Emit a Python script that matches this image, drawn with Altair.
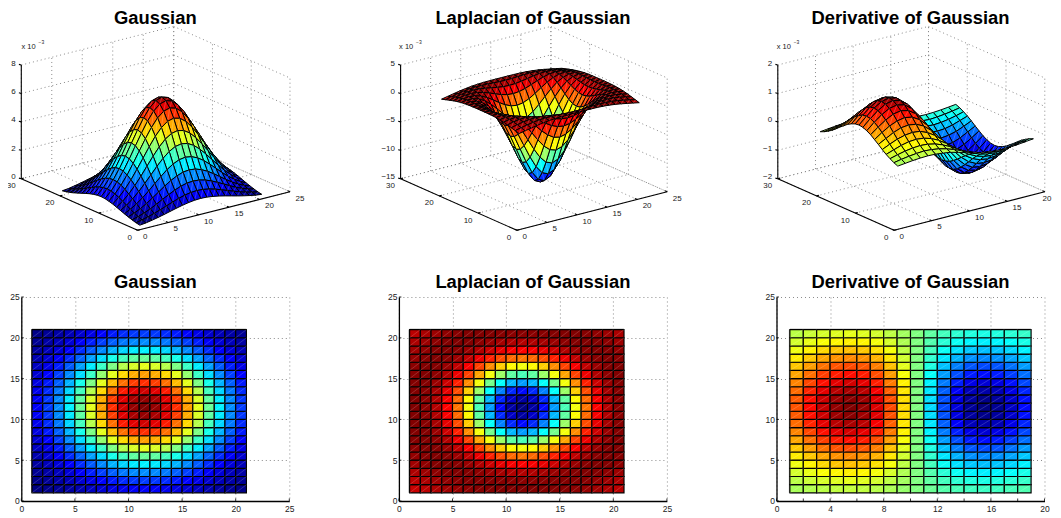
import altair as alt
import pandas as pd

FONT = "Liberation Sans"

# Gaussian, units 1e-5: rows dy = 0..10, columns dx = 0..10 from the centre (symmetric surface)
gauss_q = [
    [685, 671, 632, 572, 497, 416, 334, 257, 190, 136, 93],
    [671, 658, 620, 561, 487, 408, 327, 252, 187, 133, 91],
    [632, 620, 584, 528, 459, 384, 308, 237, 176, 125, 85],
    [572, 561, 528, 478, 415, 347, 279, 215, 159, 113, 77],
    [497, 487, 459, 415, 361, 302, 242, 187, 138, 98, 67],
    [416, 408, 384, 347, 302, 252, 203, 156, 116, 82, 56],
    [334, 327, 308, 279, 242, 203, 162, 125, 93, 66, 45],
    [257, 252, 237, 215, 187, 156, 125, 96, 71, 51, 35],
    [190, 187, 176, 159, 138, 116, 93, 71, 53, 38, 26],
    [136, 133, 125, 113, 98, 82, 66, 51, 38, 27, 18],
    [93, 91, 85, 77, 67, 56, 45, 35, 26, 18, 13],
]
# Laplacian of Gaussian, units 1e-3, same layout
log_q = [
    [-12.80, -12.27, -10.77, -8.55, -5.97, -3.39, -1.14, 0.60, 1.75, 2.36, 2.53],
    [-12.27, -11.75, -10.29, -8.14, -5.64, -3.15, -0.97, 0.70, 1.80, 2.38, 2.53],
    [-10.77, -10.29, -8.96, -7.00, -4.73, -2.47, -0.51, 0.98, 1.95, 2.43, 2.52],
    [-8.55, -8.14, -7.00, -5.33, -3.39, -1.49, 0.15, 1.38, 2.14, 2.49, 2.50],
    [-5.97, -5.64, -4.73, -3.39, -1.86, -0.37, 0.89, 1.80, 2.34, 2.52, 2.45],
    [-3.39, -3.15, -2.47, -1.49, -0.37, 0.70, 1.58, 2.17, 2.48, 2.51, 2.36],
    [-1.14, -0.97, -0.51, 0.15, 0.89, 1.58, 2.11, 2.43, 2.53, 2.44, 2.23],
    [0.60, 0.70, 0.98, 1.38, 1.80, 2.17, 2.43, 2.53, 2.48, 2.30, 2.06],
    [1.75, 1.80, 1.95, 2.14, 2.34, 2.48, 2.53, 2.48, 2.33, 2.11, 1.86],
    [2.36, 2.38, 2.43, 2.49, 2.52, 2.51, 2.44, 2.30, 2.11, 1.89, 1.65],
    [2.53, 2.53, 2.52, 2.50, 2.45, 2.36, 2.23, 2.06, 1.86, 1.65, 1.44],
]
# Derivative of Gaussian, units 1e-5: rows dy = 0..10, columns dx = 0..9 left of centre
dog_q = [
    [0, 53, 100, 136, 158, 165, 159, 143, 121, 97],
    [0, 52, 98, 134, 155, 162, 156, 140, 119, 95],
    [0, 49, 93, 126, 146, 152, 147, 132, 112, 89],
    [0, 45, 84, 114, 132, 138, 133, 119, 101, 81],
    [0, 39, 73, 99, 115, 120, 115, 104, 88, 70],
    [0, 32, 61, 83, 96, 100, 97, 87, 73, 59],
    [0, 26, 49, 66, 77, 80, 77, 70, 59, 47],
    [0, 20, 38, 51, 59, 62, 60, 54, 45, 36],
    [0, 15, 28, 38, 44, 46, 44, 40, 34, 27],
    [0, 11, 20, 27, 31, 33, 31, 28, 24, 19],
    [0, 7, 14, 18, 21, 22, 21, 19, 16, 13],
]

titles = ["Gaussian", "Laplacian of Gaussian", "Derivative of Gaussian"]
x_limits = [25, 25, 20]
x_ticks_3d = [[0, 5, 10, 15, 20, 25], [0, 5, 10, 15, 20, 25], [0, 5, 10, 15, 20]]
y_ticks_3d = [0, 10, 20, 30]
z_ticks = [[0, 2, 4, 6, 8], [-15, -10, -5, 0, 5], [-2, -1, 0, 1, 2]]
z_labels = [["0", "2", "4", "6", "8"], ["−15", "−10", "−5", "0", "5"], ["−2", "−1", "0", "1", "2"]]
x_ticks_2d = [[0, 5, 10, 15, 20, 25], [0, 5, 10, 15, 20, 25], [0, 2, 4, 6, 8, 10, 12, 14, 16, 18, 20]]
y_ticks_2d = [0, 5, 10, 15, 20, 25]

jet_stops = [0, 0.125, 0.375, 0.625, 0.875, 1]
jet_colors = ["#000080", "#0000ff", "#00ffff", "#ffff00", "#ff0000", "#800000"]

W, H_TOP, H_BOT = 268, 205, 204
ORIGIN = [(116.3, 204.3), (118.0, 204.3), (117.6, 204.3)]  # floor corner (0,0) inside each top panel
EX = [(152.4, -38.6), (150.3, -38.6), (150.7, -38.6)]      # whole x axis on screen
EY = (-116.3, -51.6)
Z_SPAN = 113.7
GRID_COL = "#8a8a8a"
INK = "#222222"
RIGHT_LIMIT = 275.0  # the page ends here for the rightmost panel


def matrices():
    """Full grids as rows of [x, y, z], restored from the quarter tables by the picture's mirror symmetry."""
    g = [[gauss_q[abs(j - 11)][abs(i - 11)] * 1e-5 for i in range(1, 22)] for j in range(1, 22)]
    l = [[log_q[abs(j - 11)][abs(i - 11)] * 1e-3 for i in range(1, 22)] for j in range(1, 22)]
    d = [[(1 if i <= 10 else -1) * dog_q[abs(j - 11)][abs(i - 10)] * 1e-5 for i in range(1, 20)] for j in range(1, 22)]
    return [g, l, d]


jet_scale = alt.Scale(domain=jet_stops, range=jet_colors, interpolate="rgb")
px_x = alt.Scale(domain=[0, W], nice=False, zero=False)
px_y = alt.Scale(domain=[H_TOP, 0], nice=False, zero=False)


def panel_3d(p, Z):
    xmax = x_limits[p]
    zmin, zmax = z_ticks[p][0] * 1e-3, z_ticks[p][-1] * 1e-3
    ox, oy = ORIGIN[p]
    ex, ey = EX[p], EY

    def proj(x, y, z):
        w = (z - zmin) / (zmax - zmin)
        return (ox + ex[0] * x / xmax + ey[0] * y / 30,
                oy + ex[1] * x / xmax + ey[1] * y / 30 - Z_SPAN * w)

    vmin = min(min(r) for r in Z)
    vmax = max(max(r) for r in Z)
    ny, nx = len(Z), len(Z[0])
    cells = []
    for j in range(ny - 1):
        for i in range(nx - 1):
            x0, y0 = i + 1, j + 1
            xc, yc = x0 + 0.5, y0 + 0.5
            zc = (Z[j][i] + Z[j][i + 1] + Z[j + 1][i] + Z[j + 1][i + 1]) / 4
            depth = 0.94 * (0.609 * xc / xmax + 0.793 * yc / 30) - 0.213 * (zc - zmin) / (zmax - zmin)
            cells.append((depth, i, j))
    cells.sort(reverse=True)
    rows = []
    for n, (_, i, j) in enumerate(cells):
        c = (Z[j][i] - vmin) / (vmax - vmin)
        for k, (a, b) in enumerate([(0, 0), (1, 0), (1, 1), (0, 1), (0, 0)]):
            sx, sy = proj(i + 1 + a, j + 1 + b, Z[j + b][i + a])
            rows.append({"cell": 2 * n, "kind": "edge", "k": k, "sx": sx, "sy": sy, "c": c})
        for k, (a, b) in enumerate([(0, 0), (1, 1)]):
            sx, sy = proj(i + 1 + a, j + 1 + b, Z[j + b][i + a])
            rows.append({"cell": 2 * n + 1, "kind": "seam", "k": k, "sx": sx, "sy": sy, "c": c})
    surf_df = pd.DataFrame(rows)

    grid, solid, texts = [], [], []
    seg = 0

    def add(store, a, b):
        nonlocal seg
        store.append({"seg": seg, "k": 0, "sx": a[0], "sy": a[1]})
        store.append({"seg": seg, "k": 1, "sx": b[0], "sy": b[1]})
        seg += 1

    for xt in x_ticks_3d[p]:
        add(grid, proj(xt, 0, zmin), proj(xt, 30, zmin))
        add(grid, proj(xt, 30, zmin), proj(xt, 30, zmax))
    for yt in y_ticks_3d:
        add(grid, proj(0, yt, zmin), proj(xmax, yt, zmin))
        add(grid, proj(xmax, yt, zmin), proj(xmax, yt, zmax))
    for zt in z_ticks[p]:
        z = zt * 1e-3
        add(grid, proj(0, 30, z), proj(xmax, 30, z))
        add(grid, proj(xmax, 30, z), proj(xmax, 0, z))

    add(solid, proj(0, 0, zmin), proj(xmax, 0, zmin))
    add(solid, proj(0, 0, zmin), proj(0, 30, zmin))
    add(solid, proj(0, 30, zmin), proj(0, 30, zmax))
    for xt in x_ticks_3d[p]:
        a = proj(xt, 0, zmin)
        add(solid, a, (a[0] - 2.2, a[1] - 1.0))
        if p == 2 and a[0] + 14 > RIGHT_LIMIT:
            # no room right of the axis end on this page: keep the label inside it
            texts.append({"sx": RIGHT_LIMIT, "sy": a[1] + 6.8, "t": str(xt), "al": "right"})
        else:
            texts.append({"sx": a[0] + 5.5, "sy": a[1] + 6.8, "t": str(xt), "al": "left"})
    for yt in y_ticks_3d:
        a = proj(0, yt, zmin)
        add(solid, a, (a[0] + 2.4, a[1] - 0.6))
        texts.append({"sx": a[0] - 5.6, "sy": a[1] + 7.4, "t": str(yt), "al": "right"})
    for zt, lab in zip(z_ticks[p], z_labels[p]):
        a = proj(0, 30, zt * 1e-3)
        add(solid, a, (a[0] - 2.4, a[1] - 0.6))
        texts.append({"sx": a[0] - 5.6, "sy": a[1] - 1.5, "t": lab, "al": "right"})

    grid_df, solid_df = pd.DataFrame(grid), pd.DataFrame(solid)
    text_df = pd.DataFrame(texts)
    left_df = text_df[text_df.al == "left"]
    right_df = text_df[text_df.al == "right"]
    X = alt.X("sx:Q", scale=px_x, axis=None)
    Y = alt.Y("sy:Q", scale=px_y, axis=None)

    grid_l = alt.Chart(grid_df).mark_line(color=GRID_COL, strokeDash=[1, 3], strokeWidth=1).encode(
        x=X, y=Y, detail="seg:N", order="k:Q")
    surf_l = alt.Chart(surf_df).mark_line().encode(
        x=X, y=Y, detail="cell:N", order="k:Q",
        fill=alt.Fill("c:Q", scale=jet_scale, legend=None),
        stroke=alt.Stroke("kind:N", scale=alt.Scale(domain=["edge", "seam"],
                                                    range=["black", "rgba(255,255,255,0.4)"]), legend=None),
        strokeWidth=alt.StrokeWidth("kind:N", scale=alt.Scale(domain=["edge", "seam"], range=[1, 0.5]), legend=None))
    solid_l = alt.Chart(solid_df).mark_line(color="black", strokeWidth=1.1).encode(
        x=X, y=Y, detail="seg:N", order="k:Q")
    tl = alt.Chart(left_df).mark_text(align="left", baseline="middle", font=FONT, fontSize=8, color=INK).encode(
        x=X, y=Y, text="t:N")
    tr = alt.Chart(right_df).mark_text(align="right", baseline="middle", font=FONT, fontSize=8, color=INK).encode(
        x=X, y=Y, text="t:N")
    mult = pd.DataFrame({"sx": [0.2], "sy": [20.7], "t": ["x 10"]})
    expo = pd.DataFrame({"sx": [17.2], "sy": [16.2], "t": ["−3"]})
    m1 = alt.Chart(mult).mark_text(align="left", baseline="middle", font=FONT, fontSize=7.5, color=INK).encode(
        x=X, y=Y, text="t:N")
    m2 = alt.Chart(expo).mark_text(align="left", baseline="middle", font=FONT, fontSize=5, color=INK).encode(
        x=X, y=Y, text="t:N")
    return alt.layer(grid_l, surf_l, solid_l, tl, tr, m1, m2).properties(
        width=W, height=H_TOP,
        title=alt.TitleParams(titles[p], font=FONT, fontSize=18.4, fontWeight="bold",
                              anchor="middle", color="black", offset=-2.7))


def panel_2d(p, Z):
    xmax = x_limits[p]
    vmin = min(min(r) for r in Z)
    vmax = max(max(r) for r in Z)
    rows = []
    for j in range(len(Z) - 1):
        for i in range(len(Z[0]) - 1):
            rows.append({"x": i + 1, "x2": i + 2, "y": j + 1, "y2": j + 2,
                         "c": (Z[j][i] - vmin) / (vmax - vmin)})
    df = pd.DataFrame(rows)
    sx = alt.Scale(domain=[0, xmax], nice=False, zero=False)
    sy = alt.Scale(domain=[0, 25], nice=False, zero=False)
    ax = dict(grid=True, gridColor=GRID_COL, gridDash=[1, 3], gridWidth=1, tickSize=0, domainColor="black",
              domainWidth=1.3, labelFont=FONT, labelFontSize=8.5, labelColor=INK, title=None, labelFlush=False)
    X = alt.X("x:Q", scale=sx, axis=alt.Axis(values=x_ticks_2d[p], labelPadding=4, **ax))
    Y = alt.Y("y:Q", scale=sy, axis=alt.Axis(values=y_ticks_2d, labelPadding=2, **ax))
    edge_left = alt.Chart(pd.DataFrame({"x": [1], "y": [1], "y2": [len(Z)]})).mark_rule(
        color="#777777", strokeWidth=2).encode(x=alt.X("x:Q", scale=sx), y=alt.Y("y:Q", scale=sy), y2="y2:Q")
    edge_top = alt.Chart(pd.DataFrame({"x": [1], "x2": [len(Z[0])], "y": [len(Z)]})).mark_rule(
        color="#777777", strokeWidth=2).encode(x=alt.X("x:Q", scale=sx), x2="x2:Q", y=alt.Y("y:Q", scale=sy))
    cells = alt.Chart(df).mark_rect(stroke="black", strokeWidth=1.15).encode(
        x=X, x2="x2:Q", y=Y, y2="y2:Q", fill=alt.Fill("c:Q", scale=jet_scale, legend=None))
    seams = alt.Chart(df).mark_rule(color="white", strokeWidth=0.5, opacity=0.35).encode(
        x=alt.X("x:Q", scale=sx), x2="x2:Q", y=alt.Y("y:Q", scale=sy), y2="y2:Q")
    xt = alt.Chart(pd.DataFrame({"t": x_ticks_2d[p]})).mark_rule(color="black", strokeWidth=0.8).encode(
        x=alt.X("t:Q", scale=sx), y=alt.value(H_BOT), y2=alt.value(H_BOT - 2.5))
    yt = alt.Chart(pd.DataFrame({"t": y_ticks_2d})).mark_rule(color="black", strokeWidth=0.8).encode(
        y=alt.Y("t:Q", scale=sy), x=alt.value(0), x2=alt.value(2.5))
    return alt.layer(edge_left, edge_top, cells, seams, xt, yt).properties(
        width=W, height=H_BOT,
        title=alt.TitleParams(titles[p], font=FONT, fontSize=18.4, fontWeight="bold",
                              anchor="middle", color="black", offset=1.6))


mats = matrices()
panels = [panel_3d(p, mats[p]) for p in range(3)] + [panel_2d(p, mats[p]) for p in range(3)]
chart = alt.concat(
    *panels, columns=3, spacing={"row": 66, "column": 109.6}, bounds="flush"
).properties(padding={"left": -1.7, "top": 0, "right": 0, "bottom": 0}).configure_view(stroke=None)

chart.save("out.html", embed_options={"renderer": "svg", "actions": False})
